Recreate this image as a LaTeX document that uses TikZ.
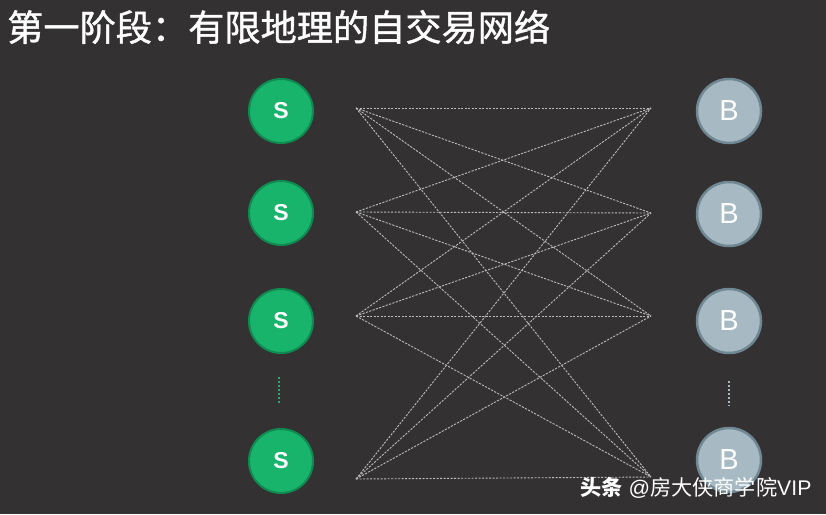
\documentclass[tikz,border=0pt]{standalone}
\usepackage{fontspec}
\setmainfont{Liberation Sans}
\newfontfamily\cjk{Noto Sans CJK SC}
\newfontfamily\cjkm[FakeBold=1.2]{Noto Sans CJK SC}
\definecolor{bg}{HTML}{333132}
\definecolor{sgreen}{HTML}{19B46B}
\definecolor{sring}{HTML}{0F8A50}
\definecolor{bfill}{HTML}{A7BAC3}
\definecolor{bring}{HTML}{6F8893}
\definecolor{linec}{HTML}{BDBDBD}
\begin{document}
\begin{tikzpicture}[x=1pt,y=-1pt,
  snode/.style={circle,minimum size=64pt,inner sep=0pt,fill=sgreen,draw=sring,line width=2pt,
    text=white,font=\bfseries\fontsize{23}{23}\selectfont},
  bnode/.style={circle,minimum size=64pt,inner sep=0pt,fill=bfill,draw=bring,line width=2.5pt,
    text=white,font=\fontsize{29}{29}\selectfont},
  link/.style={draw=linec,line width=0.9pt,dash pattern=on 2.2pt off 1.3pt},
  vdots/.style={line width=1.6pt,dash pattern=on 2pt off 2pt}]
\fill[bg] (0,0) rectangle (826,514);
\useasboundingbox (0,0) rectangle (826,514);
\node[anchor=west,text=white,font=\cjkm\fontsize{36.2}{36.2}\selectfont,inner sep=0pt] (title) at (7,27) {第一阶段：有限地理的自交易网络};
\foreach \i/\y in {1/111,2/213,3/321,4/461}{
  \node[snode] (s\i) at (281,\y) {S};
}
\foreach \i/\y in {1/111,2/214,3/321,4/460}{
  \node[bnode] (b\i) at (729,\y) {B};
}
\foreach \i/\y in {1/108,2/212,3/316,4/479}{
  \coordinate (l\i) at (356,\y);
}
\foreach \i/\y in {1/108,2/213,3/316,4/477}{
  \coordinate (r\i) at (651,\y);
}
\foreach \i in {1,...,4}{
  \foreach \j in {1,...,4}{
    \draw[link] (l\i) -- (r\j);
  }
}
\coordinate (sd1) at (279,377);
\coordinate (sd2) at (279,403);
\draw[vdots,draw=sgreen!80!gray] (sd1) -- (sd2);
\coordinate (bd1) at (729,381);
\coordinate (bd2) at (729,406);
\draw[vdots,draw=bfill] (bd1) -- (bd2);
\node[anchor=west,text=white,inner sep=0pt,font=\fontsize{21.2}{21.2}\selectfont] (wm) at (580,488)
  {{\cjk\bfseries 头条} @{\cjk 房大侠商学院}VIP};
\end{tikzpicture}
\end{document}
